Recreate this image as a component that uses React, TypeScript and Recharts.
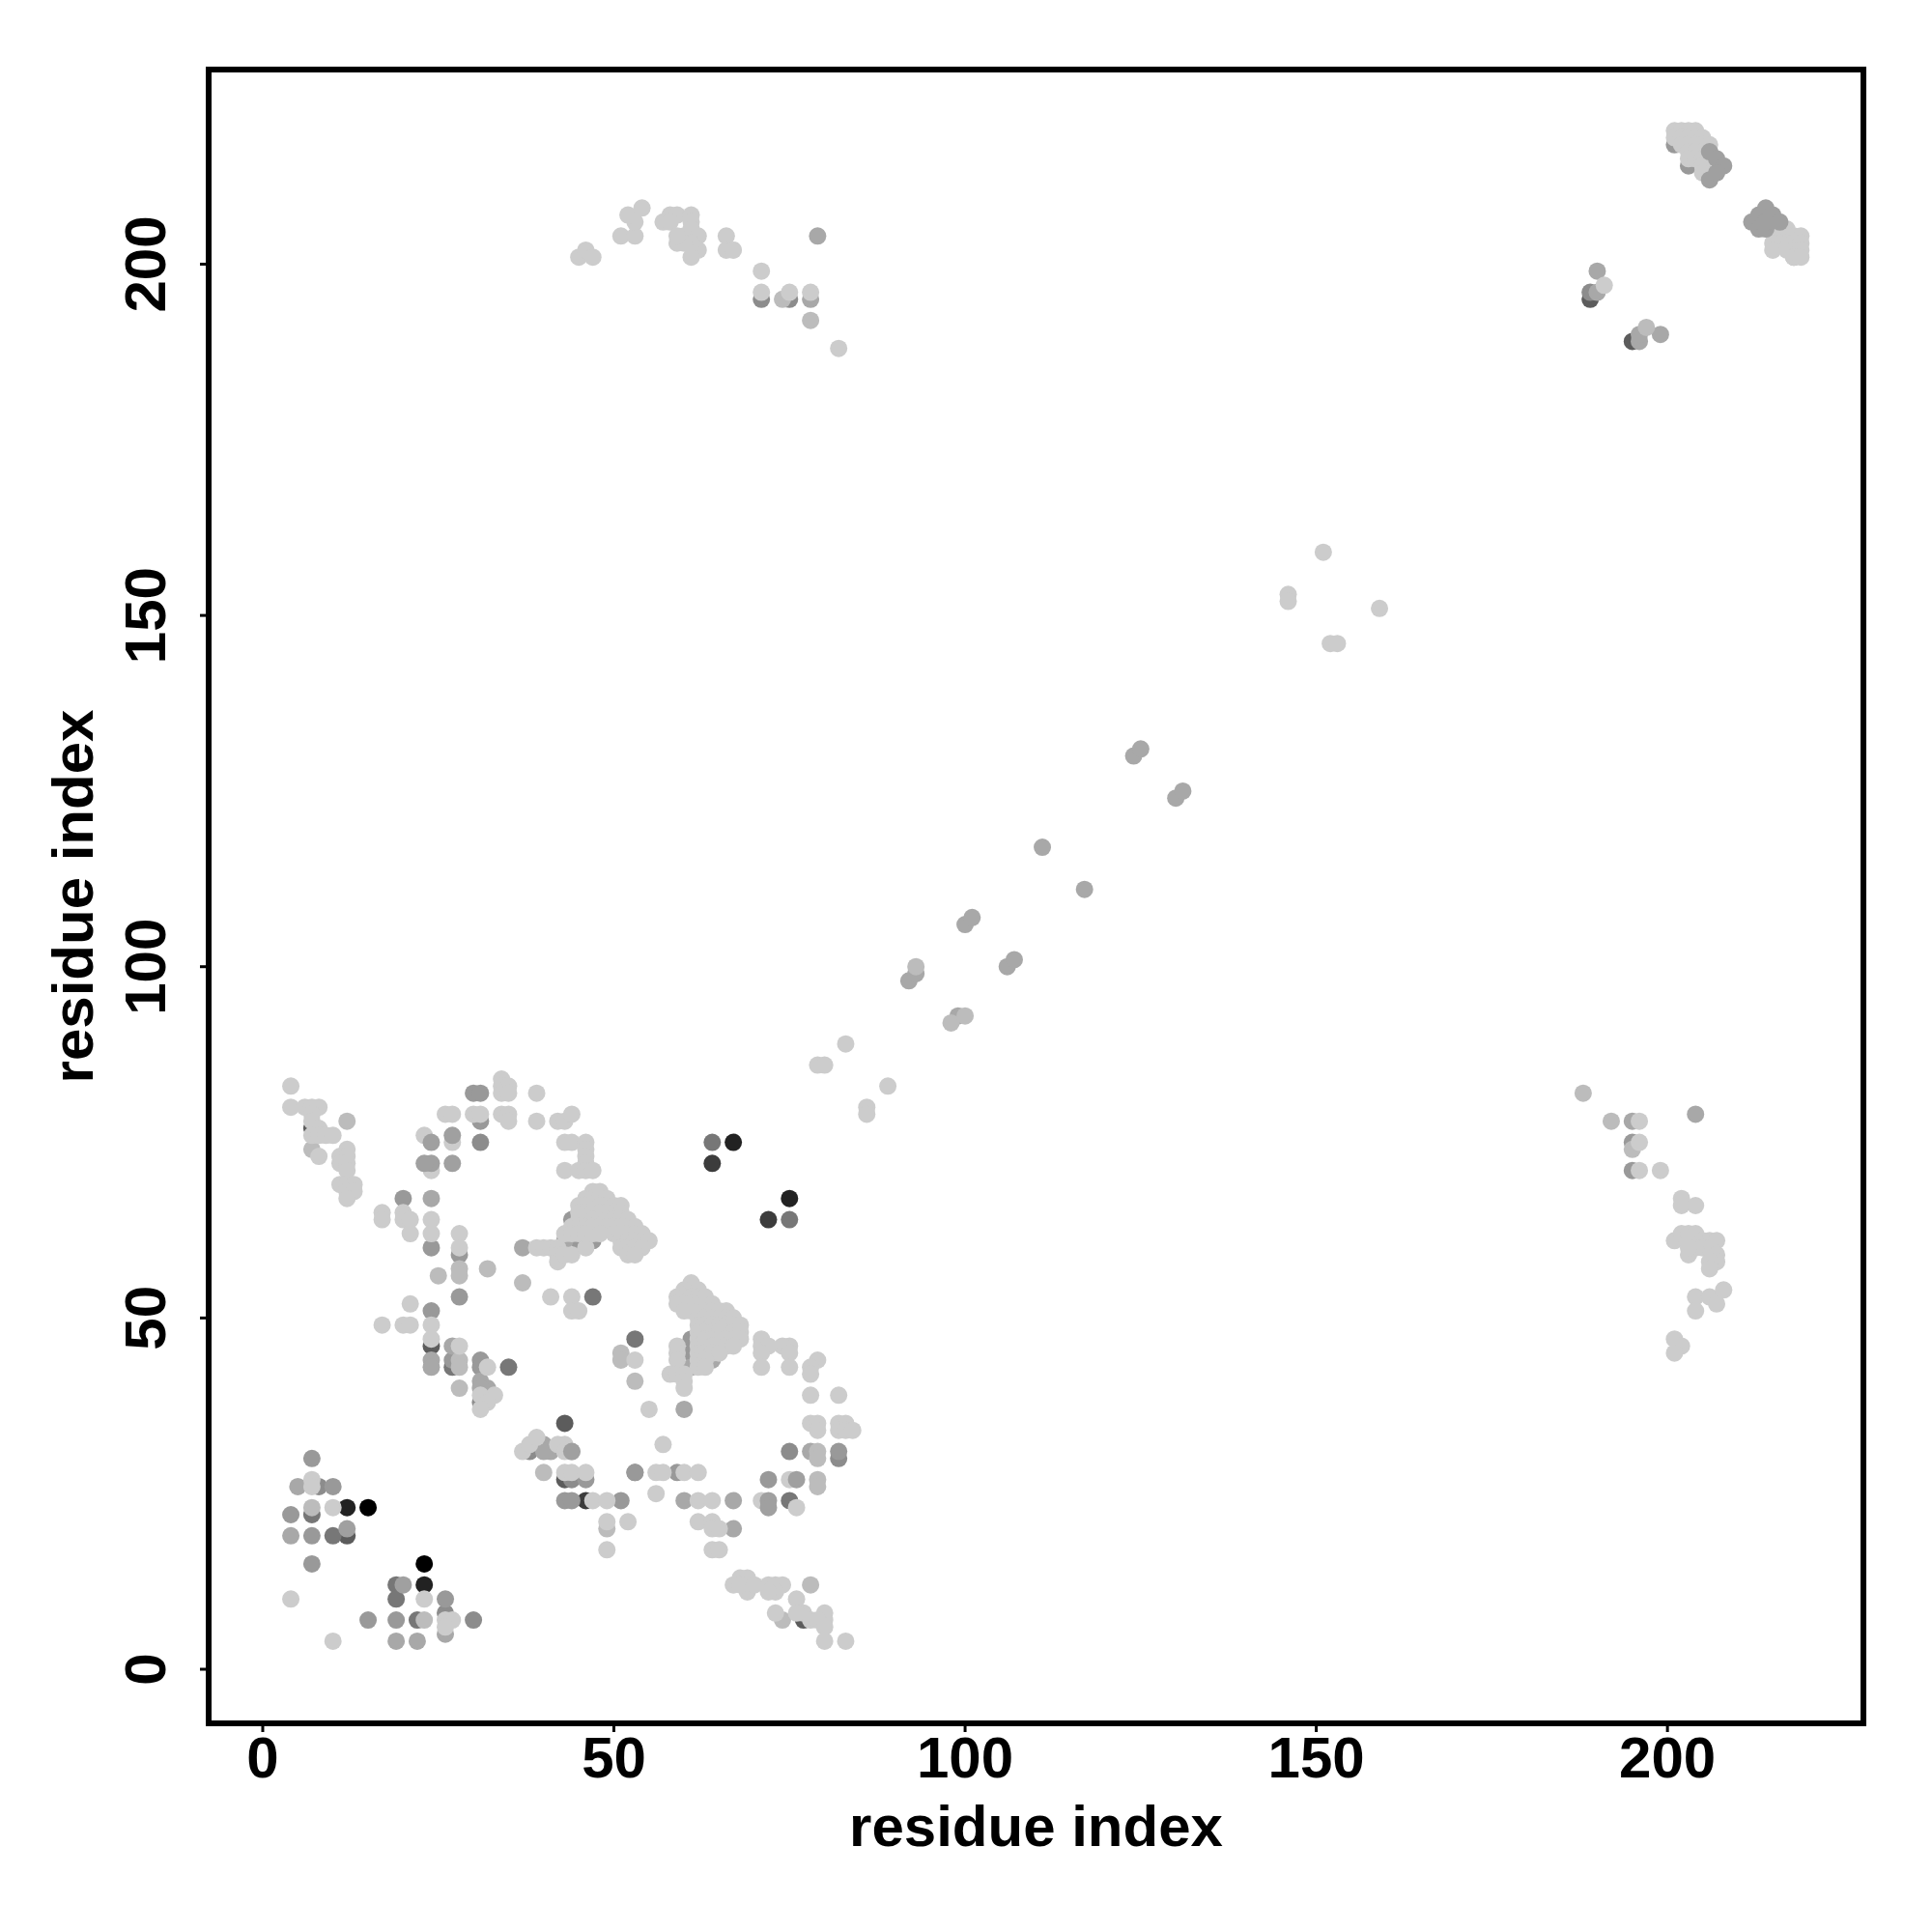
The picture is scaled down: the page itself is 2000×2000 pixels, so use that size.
import { ScatterChart, Scatter, XAxis, YAxis, ReferenceArea } from "recharts";

type Pair = [number, number];

const xTicks = [0, 50, 100, 150, 200];
const yTicks = [0, 50, 100, 150, 200];
const axisTitle = "residue index";

const black: Pair[] = [[15, 23], [23, 15]];
const grey22: Pair[] = [[12, 23], [23, 12], [67, 75], [75, 67]];
const grey3c: Pair[] = [[64, 72], [72, 64], [46, 24]];
const grey5c: Pair[] = [[24, 46], [43, 35], [12, 19], [189, 195], [195, 189], [43, 27], [77, 7], [7, 77]];
const grey77: Pair[] = [
  [64, 75], [75, 64], [47, 53], [53, 47], [10, 19], [19, 12], [19, 10], [22, 7], [7, 22], [27, 43], [35, 43], [75, 24],
];
const grey8c: Pair[] = [
  [8, 26], [26, 8], [30, 7], [31, 75], [189, 196], [82, 30], [75, 31], [44, 27], [38, 31], [31, 38], [71, 195], [75, 195],
];
const grey99: Pair[] = [
  [7, 30], [10, 26], [4, 22], [7, 19], [7, 15], [26, 10], [15, 7], [19, 7], [27, 44], [31, 44], [31, 43], [46, 27],
  [43, 24], [44, 24], [51, 24], [53, 28], [59, 28], [82, 31], [72, 27], [20, 67], [24, 60], [28, 59], [28, 53], [24, 51],
  [31, 78], [30, 82], [31, 82], [45, 61], [47, 61], [61, 47], [61, 45], [203, 214], [201, 217], [195, 75], [195, 71],
  [53, 28], [44, 64],
];
const greyA8: Pair[] = [
  [5, 26], [4, 19], [26, 5], [19, 4], [22, 4], [24, 44], [24, 43], [27, 46], [31, 41], [32, 40], [31, 40], [40, 32],
  [41, 31], [40, 31], [78, 31], [60, 37], [60, 24], [67, 24], [67, 20], [24, 67], [37, 60], [43, 61], [61, 43], [64, 44],
  [79, 204], [78, 195], [190, 199], [190, 196], [196, 189], [196, 190], [199, 190], [195, 78], [204, 79], [218, 201],
  [111, 117], [117, 111], [124, 130], [125, 131], [130, 124], [131, 125], [100, 106], [101, 107], [106, 100], [107, 101],
  [92, 98], [93, 99], [99, 93],
];
const greyBC: Pair[] = [
  [7, 23], [23, 7], [28, 40], [40, 28], [79, 31], [79, 30], [74, 195], [78, 192], [28, 44], [28, 43], [28, 57], [28, 56],
  [25, 56], [32, 57], [37, 55], [12, 78], [7, 74], [51, 45], [51, 44], [53, 41], [49, 20], [78, 12], [74, 7], [79, 27],
  [79, 26], [188, 82], [192, 78], [195, 74], [93, 100], [98, 92], [100, 93], [197, 191], [44, 31],
];
const greyCC: Pair[] = [
  [4, 83], [4, 80], [6, 80], [7, 80], [8, 80], [7, 79], [7, 78], [8, 77], [7, 76], [8, 76], [9, 76], [10, 76], [8, 73],
  [12, 74], [11, 73], [12, 73], [11, 72], [12, 72], [12, 71], [11, 69], [12, 69], [13, 69], [12, 68], [13, 68], [12, 67],
  [17, 65], [17, 64], [20, 65], [20, 64], [21, 64], [21, 62], [24, 64], [24, 62], [28, 62], [28, 60], [23, 76], [27, 75],
  [24, 71], [26, 79], [27, 79], [30, 79], [31, 79], [34, 84], [34, 83], [35, 83], [34, 82], [35, 82], [34, 79], [35, 79],
  [35, 78], [39, 82], [39, 78], [42, 78], [43, 78], [44, 79], [43, 75], [44, 75], [46, 75], [46, 74], [46, 73], [46, 72],
  [43, 71], [45, 71], [46, 71], [47, 71], [39, 60], [40, 60], [41, 60], [42, 60], [42, 59], [42, 58], [43, 59], [44, 59],
  [46, 60], [41, 53], [44, 53], [44, 51], [45, 51], [21, 52], [24, 49], [17, 49], [20, 49], [21, 49], [24, 47], [28, 46],
  [7, 27], [7, 26], [10, 23], [4, 10], [23, 10], [26, 7], [27, 7], [26, 6], [10, 4], [32, 43], [33, 39], [31, 39],
  [32, 38], [31, 37], [37, 31], [38, 32], [39, 33], [43, 32], [42, 32], [43, 31], [43, 28], [44, 28], [46, 28], [47, 24],
  [49, 24], [49, 21], [52, 21], [49, 17], [56, 28], [57, 28], [60, 28], [62, 28], [57, 32], [56, 25], [62, 24], [64, 24],
  [62, 21], [64, 21], [64, 20], [65, 20], [64, 17], [65, 17], [67, 12], [68, 13], [69, 13], [69, 11], [68, 12], [70, 12],
  [72, 12], [73, 12], [74, 12], [73, 11], [72, 11], [76, 10], [73, 8], [77, 8], [76, 8], [78, 7], [80, 8], [80, 7], [79, 7],
  [80, 6], [80, 4], [83, 4], [71, 24], [76, 23], [75, 27], [78, 35], [79, 35], [79, 34], [82, 35], [83, 35], [82, 34],
  [83, 34], [84, 34], [78, 39], [82, 39], [79, 44], [78, 43], [78, 42], [75, 46], [74, 46], [75, 45], [75, 43], [71, 47],
  [71, 46], [72, 46], [71, 45], [71, 43], [53, 44], [55, 37], [83, 89], [79, 86], [80, 86], [86, 80], [86, 79], [89, 83],
  // band around residues 45-55
  [47, 68], [48, 68], [46, 67], [47, 67], [48, 67], [49, 67], [45, 66], [46, 66], [47, 66], [48, 66], [49, 66], [50, 66],
  [51, 66], [45, 65], [46, 65], [47, 65], [48, 65], [49, 65], [50, 65], [51, 65], [45, 64], [46, 64], [47, 64], [48, 64],
  [49, 64], [50, 64], [51, 64], [52, 64], [44, 63], [45, 63], [46, 63], [47, 63], [48, 63], [49, 63], [50, 63], [51, 63],
  [52, 63], [53, 63], [43, 62], [44, 62], [45, 62], [46, 62], [47, 62], [48, 62], [50, 62], [51, 62], [52, 62], [53, 62],
  [54, 62], [51, 61], [52, 61], [53, 61], [54, 61], [55, 61], [51, 60], [52, 60], [53, 60], [54, 60], [52, 59], [53, 59],
  // band around residues 60-68
  [61, 55], [60, 54], [61, 54], [62, 54], [59, 53], [60, 53], [61, 53], [62, 53], [63, 53], [59, 52], [60, 52], [61, 52],
  [62, 52], [63, 52], [64, 52], [60, 51], [61, 51], [62, 51], [63, 51], [64, 51], [65, 51], [66, 51], [62, 50], [63, 50],
  [64, 50], [65, 50], [66, 50], [67, 50], [62, 49], [63, 49], [64, 49], [65, 49], [66, 49], [67, 49], [68, 49], [62, 48],
  [63, 48], [64, 48], [65, 48], [66, 48], [67, 48], [68, 48], [62, 47], [63, 47], [64, 47], [65, 47], [66, 47], [67, 47],
  [68, 47], [62, 46], [63, 46], [64, 46], [65, 46], [66, 46], [67, 46], [62, 45], [63, 45], [64, 45], [65, 45], [62, 44],
  [63, 44], [62, 43], [63, 43], [59, 46], [59, 45], [59, 44], [58, 42], [59, 42], [60, 42], [60, 41], [60, 40],
  // top of the plot
  [45, 201], [46, 202], [47, 201], [51, 204], [53, 204], [53, 206], [52, 207], [54, 208], [57, 206], [58, 207], [59, 207],
  [58, 206], [59, 203], [60, 204], [61, 207], [61, 206], [61, 205], [62, 204], [62, 202], [61, 201], [61, 203], [60, 203],
  [59, 204], [66, 204], [66, 202], [67, 202], [71, 199], [71, 196], [75, 196], [78, 196], [82, 188],
  [191, 197], [151, 159], [146, 153], [146, 152], [159, 151], [152, 146], [153, 146],
  [201, 219], [202, 219], [203, 219], [204, 219], [201, 218], [202, 218], [203, 218], [204, 218], [205, 218], [202, 217],
  [203, 217], [204, 217], [205, 217], [206, 217], [203, 216], [204, 216], [205, 216], [203, 215], [204, 215], [205, 215],
  [205, 214], [205, 213], [215, 205], [216, 205], [217, 205], [218, 204], [219, 204], [217, 204], [216, 204], [216, 203],
  [217, 203], [218, 203], [219, 203], [215, 203], [215, 202], [217, 202], [218, 202], [219, 202], [218, 201], [219, 201],
  // lower right
  [196, 78], [196, 75], [196, 71], [199, 71], [202, 67], [202, 66], [204, 66], [201, 61], [202, 62], [203, 62], [204, 62],
  [203, 59], [205, 61], [206, 61], [207, 61], [205, 60], [206, 60], [204, 60], [203, 60], [207, 59], [207, 58], [206, 58],
  [206, 57], [204, 53], [204, 51], [206, 53], [207, 52], [208, 54], [201, 47], [202, 46], [201, 45],
];
// mid greys that were plotted over the light ones
const overMid: Pair[] = [
  [27, 76], [24, 75], [24, 72], [23, 72], [27, 72], [44, 31], [76, 27], [72, 24], [72, 23], [20, 12], [12, 20],
  [206, 216], [207, 215], [208, 214], [206, 212], [207, 213], [212, 206], [213, 207], [214, 208], [215, 207], [216, 206],
  [213, 205], [214, 205], [214, 206],
];

const seriesList: { color: string; points: Pair[] }[] = [
  { color: "#000000", points: black },
  { color: "#222222", points: grey22 },
  { color: "#3c3c3c", points: grey3c },
  { color: "#5c5c5c", points: grey5c },
  { color: "#777777", points: grey77 },
  { color: "#8c8c8c", points: grey8c },
  { color: "#999999", points: grey99 },
  { color: "#a8a8a8", points: greyA8 },
  { color: "#bcbcbc", points: greyBC },
  { color: "#cccccc", points: greyCC },
  { color: "#a0a0a0", points: overMid },
];

const font = "'Liberation Sans', Arial, sans-serif";

function XTick({ x, payload }: any) {
  return (
    <text x={x} y={1840} textAnchor="middle" fontFamily={font} fontWeight="bold" fontSize={60} fill="#000">
      {payload.value}
    </text>
  );
}

function YTick({ y, payload }: any) {
  return (
    <text
      transform={`translate(171 ${y}) rotate(-90)`}
      textAnchor="middle"
      fontFamily={font}
      fontWeight="bold"
      fontSize={60}
      fill="#000"
    >
      {payload.value}
    </text>
  );
}

function Dot({ cx, cy, fill }: any) {
  return <circle cx={cx} cy={cy} r={9} fill={fill} />;
}

const titleStyle = { fontFamily: font, fontWeight: "bold", fontSize: 60, fill: "#000" };

export default function App() {
  return (
    <div style={{ position: "absolute", left: 0, top: 0, width: 2000, height: 2000, background: "#fff" }}>
      <ScatterChart width={2000} height={2000} margin={{ top: 72, right: 71, bottom: 0, left: 0 }}>
        <XAxis
          type="number"
          dataKey="x"
          domain={[-7.7, 227.9]}
          allowDataOverflow
          ticks={xTicks}
          height={216}
          axisLine={false}
          tickSize={9}
          tickLine={{ stroke: "#000", strokeWidth: 3 }}
          tick={<XTick />}
          label={{ value: axisTitle, position: "insideBottom", offset: 89, style: titleStyle }}
        />
        <YAxis
          type="number"
          dataKey="y"
          domain={[-7.7, 227.7]}
          allowDataOverflow
          ticks={yTicks}
          width={216}
          axisLine={false}
          tickSize={9}
          tickLine={{ stroke: "#000", strokeWidth: 3 }}
          tick={<YTick />}
          label={{
            value: axisTitle,
            angle: -90,
            position: "insideLeft",
            offset: 75,
            style: { ...titleStyle, textAnchor: "middle" },
          }}
        />
        {seriesList.map((s, i) => (
          <Scatter
            key={i}
            data={s.points.map(([x, y]) => ({ x, y }))}
            fill={s.color}
            shape={<Dot />}
            isAnimationActive={false}
          />
        ))}
        <ReferenceArea
          x1={-7.7}
          x2={227.9}
          y1={-7.7}
          y2={227.7}
          fill="none"
          stroke="#000"
          strokeWidth={6}
        />
      </ScatterChart>
    </div>
  );
}
